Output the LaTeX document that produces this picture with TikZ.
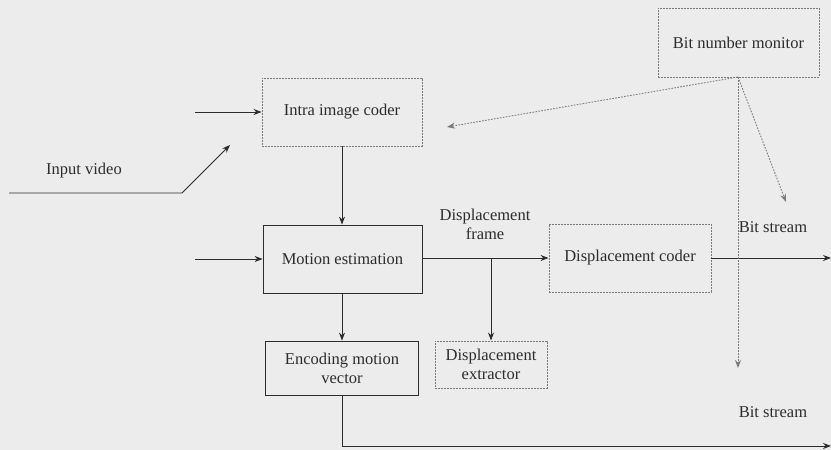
\documentclass[tikz,border=0pt]{standalone}
\usepackage{fontspec}
\setmainfont{Liberation Serif}
\usetikzlibrary{arrows.meta,positioning}
\definecolor{paper}{HTML}{ECECEC}
\definecolor{ink}{HTML}{2C2C2C}
\definecolor{dots}{HTML}{7A7A7A}

\begin{document}
\begin{tikzpicture}[x=1pt,y=-1pt,
	font=\fontsize{16.5}{19}\selectfont,
	solidbox/.style={draw=ink,line width=0.8pt,inner sep=0pt,align=center,text=ink},
	dotbox/.style={draw=dots,line width=0.9pt,dash pattern=on 1.6pt off 1.4pt,inner sep=0pt,align=center,text=ink},
	flow/.style={draw=ink,line width=0.8pt,-{Stealth[length=8pt,width=6pt]}},
	hint/.style={draw=dots,line width=0.9pt,dash pattern=on 1.6pt off 1.4pt,-{Stealth[length=8pt,width=6pt,sep=0pt]}},
	label/.style={text=ink,align=center}]
		\fill[paper] (0,0) rectangle (831,450);
		\useasboundingbox (0,0) rectangle (831,450);
		% blocks
		\node[dotbox,minimum width=160,minimum height=68] (intra) at (342,112) {Intra image coder};
		\node[solidbox,minimum width=159,minimum height=68] (motion) at (342.5,259) {Motion estimation};
		\node[solidbox,minimum width=153,minimum height=54] (mvcode) at (342,368) {Encoding motion\\vector};
		\node[dotbox,minimum width=112,minimum height=47] (extract) at (491,364.5) {Displacement\\extractor};
		\node[dotbox,minimum width=162,minimum height=68] (dispcoder) at (630,258) {Displacement coder};
		\node[dotbox,minimum width=161,minimum height=69] (monitor) at (738.5,42.5) {Bit number monitor};
		% texts
		\node[label] (invideo) at (84,171) {Input video};
		\node[label] (dframe) at (485,224) {Displacement\\frame};
		\node[label] (bsone) at (773,227) {Bit stream};
		\node[label] (bstwo) at (773,412) {Bit stream};
		% free ends
		\coordinate (inA) at (195,112);
		\coordinate (inB) at (195,259);
		\coordinate (vidstart) at (9,193);
		\coordinate (vidbend) at (182,193);
		\coordinate (vidend) at (230,145);
		\coordinate (split) at (491,258);
		\coordinate (outA) at (831,258);
		\coordinate (outB) at (831,446);
		\coordinate (mvturn) at (342,446);
		\coordinate (mon) at (738,77);
		\coordinate (toIntra) at (447,127);
		\coordinate (toBsone) at (786,202);
		\coordinate (toBstwo) at (738,368);
		% connectors
		\draw[flow] (inA) -- (intra.west);
		\draw[flow] (inB) -- (motion.west);
		\draw[flow] (vidstart) -- (vidbend) -- (vidend);
		\draw[flow] (intra.south) -- (intra.south |- motion.north);
		\draw[flow] (mvcode.north |- motion.south) -- (mvcode.north);
		\draw[flow] (motion.east |- split) -- (dispcoder.west);
		\draw[flow] (split) -- (extract.north);
		\draw[flow] (dispcoder.east) -- (outA);
		\draw[flow] (mvcode.south) -- (mvturn) -- (outB);
		\draw[hint] (mon) -- (toIntra);
		\draw[hint] (mon) -- (toBsone);
		\draw[hint] (mon) -- (toBstwo);
\end{tikzpicture}
\end{document}
